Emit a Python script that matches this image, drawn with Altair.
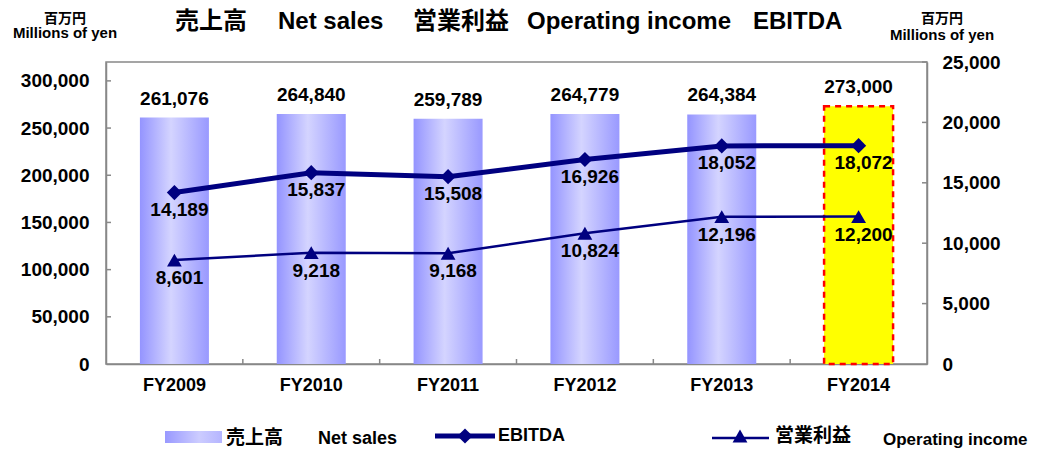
import altair as alt
import pandas as pd

# ---------------- data ----------------
years = ["FY2009", "FY2010", "FY2011", "FY2012", "FY2013", "FY2014"]
net_sales = [261076, 264840, 259789, 264779, 264384, 273000]
ebitda = [14189, 15837, 15508, 16926, 18052, 18072]
op_income = [8601, 9218, 9168, 10824, 12196, 12200]
left_ticks = [0, 50000, 100000, 150000, 200000, 250000, 300000]
right_ticks = [0, 5000, 10000, 15000, 20000, 25000]
forecast_year = "FY2014"

df = pd.DataFrame({"year": years, "sales": net_sales, "ebitda": ebitda, "op": op_income})

# ---------------- style ----------------
W, H = 821, 302
FONT = "Liberation Sans, Noto Sans CJK JP, sans-serif"
NAVY = "#000080"
AXC = "#888888"

bar_grad = alt.Gradient(
    gradient="linear",
    stops=[alt.GradientStop(color="#9494ff", offset=0),
           alt.GradientStop(color="#d4d4ff", offset=0.45),
           alt.GradientStop(color="#9999ff", offset=1)],
    x1=0, x2=1, y1=0, y2=0)
legend_grad = alt.Gradient(
    gradient="linear",
    stops=[alt.GradientStop(color="#9999ff", offset=0),
           alt.GradientStop(color="#ccccff", offset=0.6),
           alt.GradientStop(color="#b5b5ff", offset=1)],
    x1=0, x2=1, y1=0, y2=0)

xscale = alt.Scale(domain=years, paddingInner=0, paddingOuter=0)
xaxis = alt.Axis(title=None, labelAngle=0, ticks=False, tickSize=0, labelPadding=12,
                 labelFontSize=18, labelFont=FONT, labelFontWeight="bold", labelColor="black",
                 domainColor=AXC, domainWidth=1.5)


def X(field="year:N", **kw):
    return alt.X(field, scale=xscale, axis=xaxis, **kw)


lscale = alt.Scale(domain=[0, 320000], nice=False)
laxis = alt.Axis(title=None, values=left_ticks, format=",d", ticks=False, tickSize=0,
                 labelPadding=17, grid=False, labelFontSize=19, labelFont=FONT,
                 labelFontWeight="bold", labelColor="black", domainColor=AXC, domainWidth=1.5)
rscale = alt.Scale(domain=[0, 25000], nice=False)
raxis = alt.Axis(title=None, orient="right", values=right_ticks, format=",d", ticks=False,
                 tickSize=0, labelPadding=15, grid=False, labelFontSize=19, labelFont=FONT,
                 labelFontWeight="bold", labelColor="black", domainColor=AXC, domainWidth=1.5)


def YL(field):
    return alt.Y(field, scale=lscale, axis=laxis)


def YR(field):
    return alt.Y(field, scale=rscale, axis=raxis)


def txt(text, x, y, size, align="left", weight="bold"):
    return alt.Chart(pd.DataFrame({"t": [text]})).mark_text(
        align=align, baseline="middle", fontSize=size, font=FONT, fontWeight=weight,
        color="black").encode(x=alt.value(x), y=alt.value(y), text="t:N")


base = alt.Chart(df)

# ---------------- bars (left axis) ----------------
bars = base.mark_bar(size=69, color=bar_grad).encode(
    x=X(), y=YL("sales:Q")).transform_filter(alt.datum.year != forecast_year)
fc_bar = base.mark_bar(size=69, color="#ffff00", stroke="#ff0000", strokeWidth=2.5,
                       strokeDash=[6, 5]).encode(
    x=X(), y=YL("sales:Q")).transform_filter(alt.datum.year == forecast_year)
bar_text = base.mark_text(dy=-19, baseline="middle", fontSize=19, font=FONT,
                          fontWeight="bold", color="black").encode(
    x=X(), y=YL("sales:Q"), text=alt.Text("sales:Q", format=",d"))

lt = alt.Chart(pd.DataFrame({"v": left_ticks[1:]})).mark_rule(color=AXC, strokeWidth=1.5).encode(
    y=YL("v:Q"), x=alt.value(0), x2=alt.value(5))
xt = alt.Chart(pd.DataFrame({"year": years[1:]})).mark_rule(color=AXC, strokeWidth=1.5).encode(
    x=X(bandPosition=0), y=alt.value(H - 5), y2=alt.value(H))

annotations = [
    # title
    txt("売上高", 69, -40, 24),
    txt("Net sales", 172, -40, 24),
    txt("営業利益", 307, -40, 24),
    txt("Operating income", 421, -40, 24),
    txt("EBITDA", 647, -40, 24),
    # axis titles
    txt("百万円", -41, -43, 14, align="center"),
    txt("Millions of yen", -41, -29, 15, align="center"),
    txt("百万円", 836, -43, 14, align="center"),
    txt("Millions of yen", 836, -27, 15, align="center"),
    # legend texts
    txt("売上高", 120, 376, 19),
    txt("Net sales", 212, 377, 18),
    txt("EBITDA", 392, 374, 18),
    txt("営業利益", 669, 374, 19),
    txt("Operating income", 777, 378, 17),
]

one = alt.Chart(pd.DataFrame({"t": [0]}))
legend_marks = [
    one.mark_rect(color=legend_grad).encode(
        x=alt.value(59), x2=alt.value(116), y=alt.value(369), y2=alt.value(381)),
    one.mark_rule(color=NAVY, strokeWidth=5).encode(
        x=alt.value(329), x2=alt.value(389), y=alt.value(374)),
    one.mark_point(shape="diamond", filled=True, size=230, color=NAVY, opacity=1).encode(
        x=alt.value(359), y=alt.value(374)),
    one.mark_rule(color=NAVY, strokeWidth=2.5).encode(
        x=alt.value(606), x2=alt.value(663), y=alt.value(376)),
    one.mark_point(shape="triangle-up", filled=True, size=220, color=NAVY, opacity=1).encode(
        x=alt.value(634), y=alt.value(374)),
]

left_layer = alt.layer(bars, fc_bar, bar_text, lt, xt, *annotations, *legend_marks)

# ---------------- lines (right axis) ----------------
e_line = base.mark_line(color=NAVY, strokeWidth=5).encode(x=X(), y=YR("ebitda:Q"))
e_pts = base.mark_point(shape="diamond", filled=True, size=230, color=NAVY, opacity=1).encode(
    x=X(), y=YR("ebitda:Q"))
e_txt = base.mark_text(dy=17, dx=5, baseline="middle", fontSize=19, font=FONT,
                       fontWeight="bold", color="black").encode(
    x=X(), y=YR("ebitda:Q"), text=alt.Text("ebitda:Q", format=",d"))
o_line = base.mark_line(color=NAVY, strokeWidth=2.5).encode(x=X(), y=YR("op:Q"))
o_pts = base.mark_point(shape="triangle-up", filled=True, size=220, color=NAVY, opacity=1).encode(
    x=X(), y=YR("op:Q"))
o_txt = base.mark_text(dy=18, dx=5, baseline="middle", fontSize=19, font=FONT,
                       fontWeight="bold", color="black").encode(
    x=X(), y=YR("op:Q"), text=alt.Text("op:Q", format=",d"))
rt = alt.Chart(pd.DataFrame({"v": right_ticks[1:]})).mark_rule(color=AXC, strokeWidth=1.5).encode(
    y=YR("v:Q"), x=alt.value(W - 5), x2=alt.value(W))

right_layer = alt.layer(rt, e_line, o_line, e_pts, o_pts, e_txt, o_txt)

chart = alt.layer(left_layer, right_layer).resolve_scale(y="independent").properties(
    width=W, height=H,
    padding={"left": 98, "top": 54, "right": 105, "bottom": 85},
    autosize=alt.AutoSizeParams(type="none"),
    background="white",
).configure_view(stroke=AXC, strokeWidth=1.5)

chart.save("out.html", embed_options={"renderer": "svg", "actions": False})
